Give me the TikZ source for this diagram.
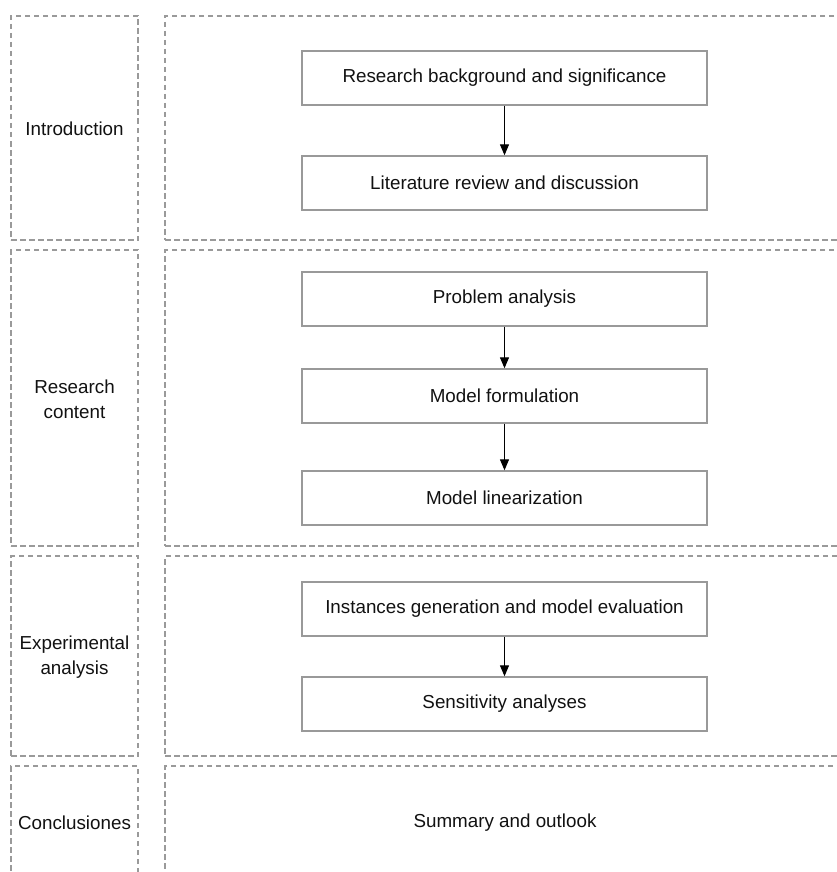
\documentclass[tikz,border=0pt]{standalone}
\usepackage{fontspec}
\setmainfont{Liberation Sans}
\usetikzlibrary{arrows.meta}
\definecolor{dashgray}{HTML}{9A9A9A}
\definecolor{boxgray}{HTML}{999999}
\definecolor{txt}{HTML}{111111}
\begin{document}
\begin{tikzpicture}[x=1pt,y=-1pt,
  panel/.style={draw=dashgray,line width=1.1pt,dash pattern=on 5.5pt off 3.5pt,rectangle,inner sep=0pt},
  stepbox/.style={draw=boxgray,line width=1.4pt,rectangle,minimum width=405pt,minimum height=54pt,inner sep=0pt,text=txt,font=\fontsize{18.8}{22}\selectfont},
  lab/.style={text=txt,align=center,font=\fontsize{18.8}{25}\selectfont},
  conn/.style={draw=black,line width=1.2pt,-{Triangle[length=11pt,width=9pt]}}]
\useasboundingbox (0,0) rectangle (837,872);
\clip (0,0) rectangle (837,872);
% left panels
\node[panel,minimum width=127pt,minimum height=224pt] (L1) at (74.5,128) {};
\node[panel,minimum width=127pt,minimum height=296pt] (L2) at (74.5,398) {};
\node[panel,minimum width=127pt,minimum height=200pt] (L3) at (74.5,656) {};
\node[panel,minimum width=127pt,minimum height=160pt] (L4) at (74.5,846) {};
% right panels
\node[panel,minimum width=740pt,minimum height=224pt] (R1) at (535,128) {};
\node[panel,minimum width=740pt,minimum height=296pt] (R2) at (535,398) {};
\node[panel,minimum width=740pt,minimum height=200pt] (R3) at (535,656) {};
\node[panel,minimum width=740pt,minimum height=160pt] (R4) at (535,846) {};
% labels
\node[lab] (t1) at (74.5,129) {Introduction};
\node[lab] (t2) at (74.5,399) {Research\\content};
\node[lab] (t3) at (74.5,657.5) {Experimental\\analysis};
\node[lab] (t4) at (74.5,823) {Conclusiones};
% boxes
\node[stepbox] (b1) at (504.5,78) {Research background and significance};
\node[stepbox] (b2) at (504.5,183) {Literature review and discussion};
\node[stepbox] (b3) at (504.5,299) {Problem analysis};
\node[stepbox] (b4) at (504.5,396) {Model formulation};
\node[stepbox] (b5) at (504.5,498) {Model linearization};
\node[stepbox] (b6) at (504.5,609) {Instances generation and model evaluation};
\node[stepbox] (b7) at (504.5,704) {Sensitivity analyses};
\node[lab] (s1) at (505,823) {Summary and outlook};
% connectors
\draw[conn] (b1) -- (b2);
\draw[conn] (b3) -- (b4);
\draw[conn] (b4) -- (b5);
\draw[conn] (b6) -- (b7);
\end{tikzpicture}
\end{document}
